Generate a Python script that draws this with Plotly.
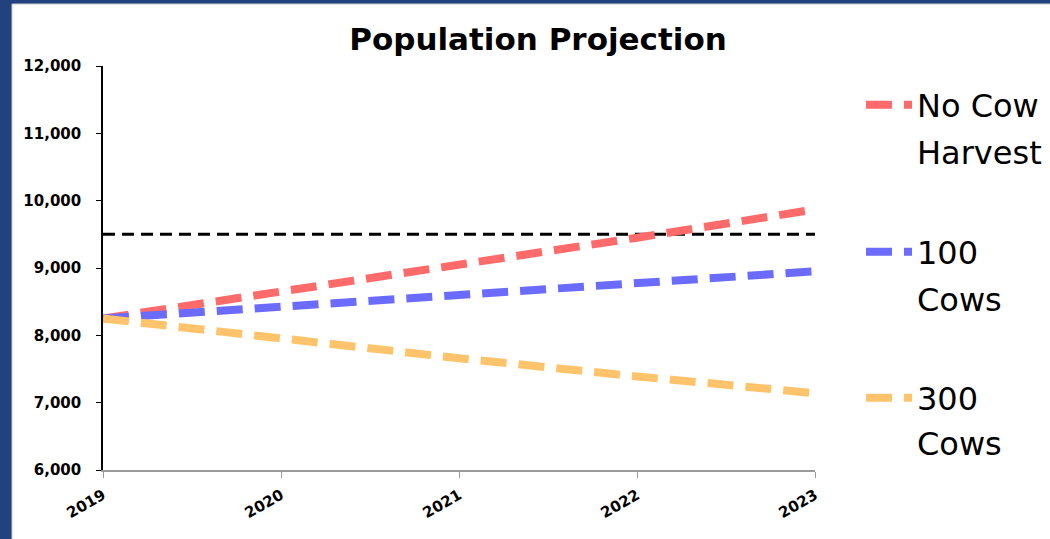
import plotly.graph_objects as go

years = [2019, 2020, 2021, 2022, 2023]
no_harvest = [8250, 8640, 9040, 9450, 9870]
cows_100 = [8250, 8420, 8590, 8770, 8950]
cows_300 = [8250, 7950, 7660, 7390, 7140]
target = [9500, 9500, 9500, 9500, 9500]

series_names = ["No Cow", "100", "300"]
second_lines = ["Harvest", "Cows", "Cows"]
colors = ["#FF6B6B", "#6B6BFF", "#FFC46B"]

W, H = 1050, 539
L, R, T, B = 103, 815, 66, 470

def px_x(p):
    return (p - L) / (R - L)

def px_y(p):
    return (B - p) / (B - T)

fig = go.Figure()

fig.add_trace(go.Scatter(x=years, y=target, mode="lines", showlegend=False,
                         line=dict(color="black", width=3, dash="12px,7px")))

legends = ["legend", "legend2", "legend3"]
for vals, name, col, lg in zip([no_harvest, cows_100, cows_300], series_names, colors, legends):
    fig.add_trace(go.Scatter(x=years, y=vals, mode="lines", name=name, legend=lg,
                             line=dict(color=col, width=8, dash="26px,12px")))

first_line_y = [105, 252, 398]
second_line_y = [153, 300, 444]
LEG_FONT = dict(family="DejaVu Sans", size=32, color="black")

leg_common = dict(font=LEG_FONT, bgcolor="rgba(0,0,0,0)", xanchor="left", yanchor="middle",
                  itemwidth=46)
layout_legends = {}
for lg, yy in zip(legends, first_line_y):
    layout_legends[lg] = dict(x=px_x(861), y=px_y(yy), **leg_common)

annotations = []
for txt, yy in zip(second_lines, second_line_y):
    annotations.append(dict(text=txt, x=px_x(915), y=px_y(yy), xref="paper", yref="paper",
                            xanchor="left", yanchor="middle", showarrow=False, font=LEG_FONT))

shapes = [
    dict(type="rect", xref="paper", yref="paper", layer="below",
         x0=px_x(12), x1=px_x(1060), y0=px_y(560), y1=px_y(4),
         fillcolor="white", line=dict(color="#c8c8c8", width=1)),
]

TICK_FONT = dict(family="DejaVu Sans", size=15, color="black", weight="bold")

fig.update_layout(
    width=W, height=H,
    margin=dict(l=L, r=W - R, t=T, b=H - B, autoexpand=False),
    paper_bgcolor="#22417f",
    plot_bgcolor="rgba(0,0,0,0)",
    title=dict(text="<b>Population Projection</b>", x=px_x(538), xref="paper", xanchor="center",
               y=1 - 39 / H, yref="container", yanchor="middle",
               font=dict(family="DejaVu Sans", size=31, color="black")),
    xaxis=dict(range=[2019, 2023], tickvals=years, ticktext=[str(y) for y in years],
               showgrid=False, zeroline=False, showline=True, linecolor="#9a9a9a", linewidth=1.5,
               ticks="outside", ticklen=6, tickcolor="#9a9a9a", tickangle=-30,
               ticklabelstandoff=3, tickfont=TICK_FONT),
    yaxis=dict(range=[6000, 12000], dtick=1000, tickformat=",",
               showgrid=False, zeroline=False, showline=True, linecolor="black", linewidth=1.5,
               ticks="outside", ticklen=5, tickcolor="black", ticklabelstandoff=12,
               tickfont=TICK_FONT),
    shapes=shapes,
    annotations=annotations,
    **layout_legends,
)

fig.write_html("out.html", config={"displayModeBar": False},
               post_script="document.body.style.margin='0';document.body.style.overflow='hidden';")
